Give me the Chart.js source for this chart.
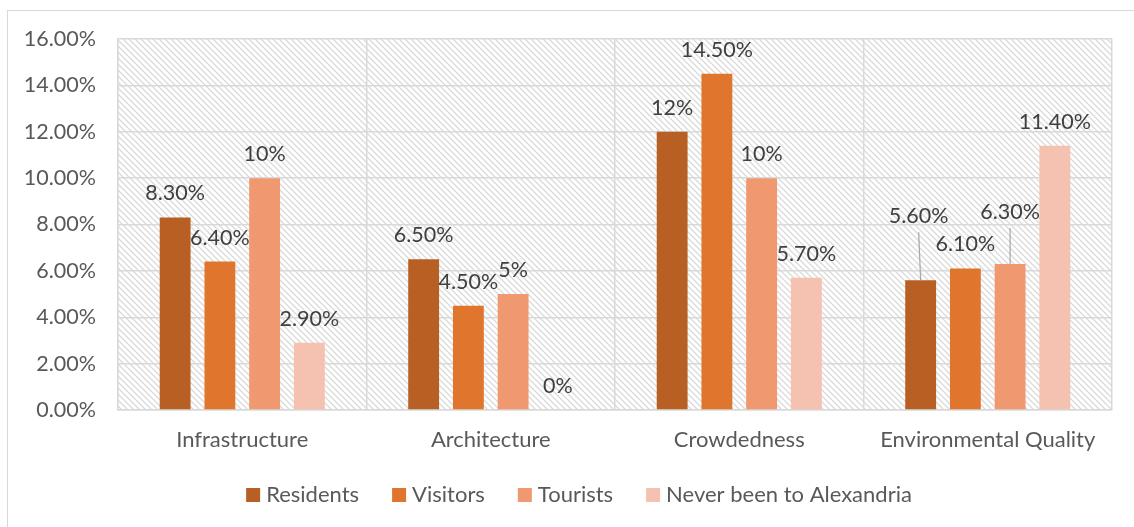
<!DOCTYPE html>
<html>
<head>
<meta charset="utf-8">
<script src="https://cdn.jsdelivr.net/npm/chart.js@4"></script>
<style>
  html, body { margin: 0; padding: 0; background: #fff; }
  #wrap { width: 1134px; height: 527px; position: relative; }
</style>
</head>
<body>
<div id="wrap"><canvas id="aspectChart"></canvas></div>
<script>
const categories = ["Infrastructure", "Architecture", "Crowdedness", "Environmental Quality"];
const residents = [8.3, 6.5, 12, 5.6];
const visitors = [6.4, 4.5, 14.5, 6.1];
const tourists = [10, 5, 10, 6.3];
const neverBeen = [2.9, 0, 5.7, 11.4];
const valueLabels = [
  ["8.30%", "6.50%", "12%", "5.60%"],
  ["6.40%", "4.50%", "14.50%", "6.10%"],
  ["10%", "5%", "10%", "6.30%"],
  ["2.90%", "0%", "5.70%", "11.40%"],
];
const yTicks = [0, 2, 4, 6, 8, 10, 12, 14, 16];

// extra lift (px) of labels moved away from their bars, with a leader line
const labelLift = { "0-3": 40, "2-3": 28 };

const FONT = "Lato";
const gray = "#595959";

function hatch() {
  const s = 6;
  const c = document.createElement("canvas");
  c.width = s; c.height = s;
  const g = c.getContext("2d");
  g.fillStyle = "#fff";
  g.fillRect(0, 0, s, s);
  g.strokeStyle = "#dadada";
  g.lineWidth = 1.3;
  g.beginPath();
  for (const k of [-s, 0, s]) {
    g.moveTo(-1, -1 + k);
    g.lineTo(s + 1, s + 1 + k);
  }
  g.stroke();
  return g.createPattern(c, "repeat");
}

const backdrop = {
  id: "backdrop",
  beforeDraw(chart) {
    const { ctx, chartArea: a } = chart;
    ctx.save();
    ctx.strokeStyle = "#d9d9d9";
    ctx.lineWidth = 1;
    ctx.strokeRect(7.5, 10.5, 1300, 700);
    ctx.fillStyle = hatch();
    ctx.fillRect(a.left, a.top, a.right - a.left, a.bottom - a.top);
    ctx.restore();
  },
};

const barLabels = {
  id: "barLabels",
  afterDatasetsDraw(chart) {
    const { ctx } = chart;
    ctx.save();
    ctx.font = "21.5px " + FONT;
    ctx.fillStyle = "#404040";
    ctx.textAlign = "center";
    ctx.textBaseline = "middle";
    chart.data.datasets.forEach((ds, i) => {
      chart.getDatasetMeta(i).data.forEach((bar, j) => {
        const lift = labelLift[i + "-" + j] || 0;
        const y = bar.y - 24 - lift;
        const dx = i === 0 && lift ? -2 : 0;
        if (lift) {
          ctx.strokeStyle = "#a6a6a6";
          ctx.lineWidth = 1.2;
          ctx.beginPath();
          ctx.moveTo(bar.x + dx, y + 16);
          ctx.lineTo(bar.x, bar.y);
          ctx.stroke();
        }
        ctx.fillText(valueLabels[i][j], bar.x + dx, y);
      });
    });
    ctx.restore();
  },
};

// legend drawn by hand: Excel puts the text closer to the swatch than Chart.js does
const legendRow = {
  id: "legendRow",
  afterDraw(chart) {
    const { ctx } = chart;
    const box = 14, gap = 6, space = 33, y = 495;
    ctx.save();
    ctx.font = "22px " + FONT;
    ctx.textBaseline = "middle";
    const items = chart.data.datasets.map((ds) => ({
      text: ds.label,
      color: ds.backgroundColor,
      w: box + gap + ctx.measureText(ds.label).width,
    }));
    const total = items.reduce((s, it) => s + it.w, 0) + space * (items.length - 1);
    let x = (chart.width - total) / 2 + 12;
    items.forEach((it) => {
      ctx.fillStyle = it.color;
      ctx.fillRect(x, y - box / 2, box, box);
      ctx.fillStyle = gray;
      ctx.fillText(it.text, x + box + gap, y);
      x += it.w + space;
    });
    ctx.restore();
  },
};

new Chart(document.getElementById("aspectChart"), {
  type: "bar",
  data: {
    labels: categories,
    datasets: [
      { label: "Residents", data: residents, backgroundColor: "#B85F23" },
      { label: "Visitors", data: visitors, backgroundColor: "#E0762E" },
      { label: "Tourists", data: tourists, backgroundColor: "#F09970" },
      { label: "Never been to Alexandria", data: neverBeen, backgroundColor: "#F5C1B0" },
    ],
  },
  options: {
    responsive: true,
    maintainAspectRatio: false,
    animation: false,
    layout: { padding: { left: 0, top: 39, right: 22, bottom: 65 } },
    datasets: { bar: { categoryPercentage: 0.72, barPercentage: 0.69 } },
    plugins: {
      legend: { display: false },
      tooltip: { enabled: false },
    },
    scales: {
      x: {
        grid: { color: "#d9d9d9", lineWidth: 1.5, drawTicks: false },
        border: { color: "#d9d9d9", width: 1.5 },
        ticks: { color: gray, font: { family: FONT, size: 22 }, padding: 17 },
        afterFit(s) { s.height = 52; },
      },
      y: {
        min: 0,
        max: 16,
        afterBuildTicks(s) { s.ticks = yTicks.map((v) => ({ value: v })); },
        grid: { color: "#d9d9d9", lineWidth: 1.5, drawTicks: false },
        border: { color: "#d9d9d9", width: 1.5 },
        ticks: {
          color: gray,
          font: { family: FONT, size: 21.5 },
          padding: 22,
          callback: (v) => v.toFixed(2) + "%",
        },
        afterFit(s) { s.width = 118; },
      },
    },
  },
  plugins: [backdrop, barLabels, legendRow],
});
</script>
</body>
</html>
